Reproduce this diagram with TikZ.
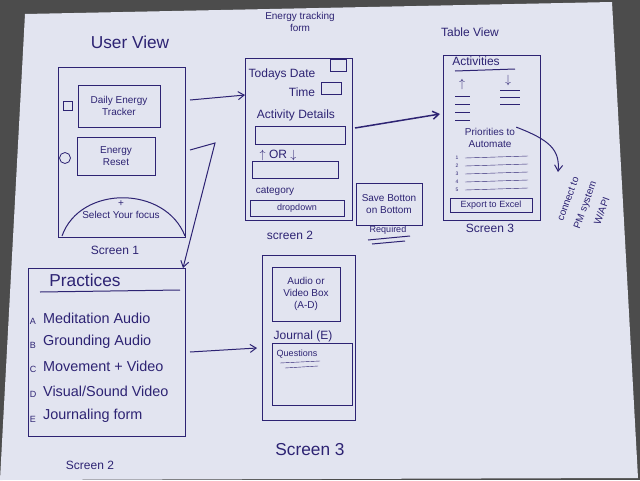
\documentclass[tikz,border=0pt]{standalone}
\usepackage{fontspec}
\setmainfont{Liberation Sans}
\usetikzlibrary{arrows.meta}
\definecolor{ink}{RGB}{45,35,115}
\definecolor{paper}{RGB}{226,228,240}
\begin{document}
\begin{tikzpicture}[x=1pt,y=-1pt,
  pen/.style={draw=ink,line width=1pt},
  t/.style={text=ink,font=\normalsize,inner sep=1pt},
  big/.style={text=ink,font=\LARGE,inner sep=1pt},
  arr/.style={pen,-{Straight Barb[length=6pt,width=8pt]}}]
\useasboundingbox (0,0) rectangle (640,480);
\fill[gray!60!black] (0,0) rectangle (640,480);
\fill[paper] (25,14) -- (612,2) -- (638,478) -- (0,480) -- cycle;
% Screen 1
\node[big] (uv) at (130,42) {User View};
\draw[pen] (58,67) rectangle (185,237);
\node[t,draw=ink,thick,align=center,minimum width=82,minimum height=42] (det) at (119,106) {Daily Energy\\Tracker};
\node[draw=ink,thick,minimum size=9] (ic1) at (68,106) {};
\node[t,draw=ink,thick,align=center,minimum width=78,minimum height=38] (er) at (116,156) {Energy\\Reset};
\node[draw=ink,thick,circle,minimum size=11] (ic2) at (65,158) {};
\draw[pen] (62,236) .. controls (80,185) and (165,185) .. (185,236);
\node[t,align=center] (sf) at (121,210) {+\\Select Your focus};
\node[t,font=\large] (s1) at (115,250) {Screen 1};
% Screen 2 top
\node[t,align=center] (etf) at (300,22) {Energy tracking\\form};
\draw[pen] (245,58) rectangle (352,220);
\node[t,font=\large] (td) at (282,74) {Todays Date};
\node[draw=ink,thick,minimum width=16,minimum height=12] (b1) at (338,65) {};
\node[t,font=\large] (tm) at (302,92) {Time};
\node[draw=ink,thick,minimum width=20,minimum height=12] (b2) at (331,88) {};
\node[t,font=\large] (ad) at (296,115) {Activity Details};
\node[draw=ink,thick,minimum width=90,minimum height=18] (f1) at (300,135) {};
\node[t,font=\large] (or) at (278,155) {$\uparrow$ OR $\downarrow$};
\node[draw=ink,thick,minimum width=86,minimum height=17] (f2) at (295,170) {};
\node[t] (cat) at (275,191) {category};
\node[t,draw=ink,thick,minimum width=94,minimum height=16,font=\small] (dd) at (297,208) {dropdown};
\node[t,font=\large] (s2) at (290,235) {screen 2};
\node[t,draw=ink,thick,align=center,minimum width=66,minimum height=42] (save) at (389,204) {Save Botton\\on Bottom};
\node[t,font=\small] (req) at (388,230) {Required};
\draw[pen] (368,240) -- (410,236); \draw[pen] (372,244) -- (405,241);
% Table view
\node[t,font=\large] (tv) at (470,32) {Table View};
\draw[pen] (443,55) rectangle (540,220);
\node[t,font=\large] (act) at (476,61) {Activities};
\draw[pen] (455,71) -- (515,69);
\node[t,font=\large] (up) at (462,84) {$\uparrow$};
\node[t,font=\large] (dn) at (508,80) {$\downarrow$};
\foreach \y in {96,104,112,120} \draw[pen,thin] (455,\y) -- (470,\y);
\foreach \y in {90,97,104} \draw[pen,thin] (500,\y) -- (520,\y);
\node[t,align=center] (pa) at (490,138) {Priorities to\\Automate};
\foreach \n/\y in {1/158,2/166,3/174,4/182,5/190}
  \node[t,font=\tiny] at (457,\y) {\n};
\foreach \y in {158,166,174,182,190}
  \draw[pen,thin] (465,\y) -- (528,\y-2);
\node[t,draw=ink,thick,minimum width=82,minimum height=14,font=\small] (exp) at (491,205) {Export to Excel};
\node[t,font=\large] (s3) at (490,228) {Screen 3};
\coordinate (pm) at (558,172);
\draw[arr] (pa.north east) .. controls (550,140) and (560,150) .. (pm);
\node[t,rotate=70,align=center] (api) at (585,205) {connect to\\[6pt]PM system\\[6pt]W/API};
% arrows top
\draw[arr] (190,100) -- (245,95);
\draw[arr,line width=1.5pt] (355,128) -- (440,114);
\draw[arr] (190,150) -- (215,143) -- (183,268);
% Screen 2 bottom
\draw[pen] (28,268) rectangle (185,436);
\node[big] (pr) at (85,280) {Practices};
\draw[pen] (40,292) -- (180,290);
\foreach \l/\s/\y in {A/{Meditation Audio}/318,B/{Grounding Audio}/342,C/{Movement + Video}/366,D/{Visual/Sound Video}/391,E/{Journaling form}/416}{
  \node[t,font=\small] at (33,\y+3) {\l};
  \node[t,font=\Large,anchor=west] at (42,\y) {\s};}
\node[t,font=\large] (s2b) at (90,465) {Screen 2};
\draw[arr] (190,352) -- (257,348);
% Screen 3 bottom
\draw[pen] (262,255) rectangle (355,420);
\node[t,draw=ink,thick,align=center,minimum width=68,minimum height=54] (av) at (306,294) {Audio or\\Video Box\\(A-D)};
\node[t,font=\large] (jr) at (303,336) {Journal (E)};
\node[draw=ink,thick,minimum width=80,minimum height=62] (qb) at (312,374) {};
\node[t,font=\small] (q) at (297,354) {Questions};
\draw[pen,thin] (280,363) -- (320,361); \draw[pen,thin] (285,368) -- (318,366);
\node[t,font=\LARGE] (s3b) at (310,450) {Screen 3};
\end{tikzpicture}
\end{document}
